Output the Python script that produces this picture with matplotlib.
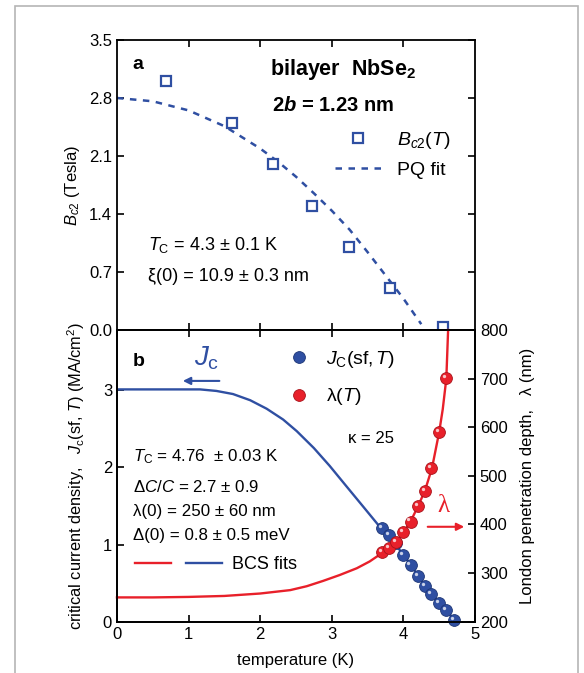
import matplotlib
matplotlib.use("Agg")
import matplotlib.pyplot as plt
from matplotlib.lines import Line2D
from matplotlib.patches import Rectangle
from matplotlib.legend_handler import HandlerTuple
from matplotlib.transforms import offset_copy

plt.rcParams['font.family'] = ['Liberation Sans', 'DejaVu Sans']
plt.rcParams['mathtext.fontset'] = 'custom'
plt.rcParams['mathtext.rm'] = 'Liberation Sans'
plt.rcParams['mathtext.it'] = 'Liberation Sans:italic'
plt.rcParams['mathtext.bf'] = 'Liberation Sans:bold'
plt.rcParams['mathtext.bfit'] = 'Liberation Sans:italic:bold'

BLUE = '#2f4fa2'
RED = '#e8202a'

# panel a: upper critical field
T_bc2 = [0.68, 1.60, 2.18, 2.72, 3.24, 3.81, 4.56]
Bc2 = [3.00, 2.50, 2.00, 1.50, 1.00, 0.51, 0.03]
T_pq = [0, 0.5, 1.0, 1.5, 2.0, 2.25, 2.5, 2.75, 3.0, 3.25, 3.5, 3.75, 4.0, 4.25]
B_pq = [2.80, 2.76, 2.65, 2.46, 2.19, 2.03, 1.85, 1.65, 1.44, 1.21, 0.94, 0.66, 0.38, 0.07]

# panel b: self-field critical current and London depth
T_jc = [3.70, 3.80, 3.90, 3.99, 4.10, 4.20, 4.30, 4.39, 4.50, 4.60, 4.71]
Jc = [1.21, 1.12, 1.02, 0.86, 0.73, 0.59, 0.46, 0.36, 0.24, 0.15, 0.02]
T_lam = [3.70, 3.80, 3.90, 3.99, 4.10, 4.20, 4.30, 4.39, 4.50, 4.60]
lam = [343, 351, 363, 384, 406, 437, 469, 516, 591, 702]

T_jfit = [0, 0.5, 0.9, 1.16, 1.39, 1.62, 1.86, 2.09, 2.32, 2.51, 2.75, 2.97, 3.2,
          3.44, 3.67, 3.9, 4.1, 4.3, 4.5, 4.7, 4.76]
J_fit = [3.01, 3.01, 3.01, 3.01, 2.99, 2.95, 2.87, 2.76, 2.62, 2.47, 2.25, 2.02, 1.76,
         1.49, 1.23, 0.99, 0.74, 0.47, 0.24, 0.04, 0.0]
T_lfit = [0, 0.5, 1.0, 1.5, 2.0, 2.42, 2.65, 2.88, 3.11, 3.35, 3.53, 3.67, 3.8, 3.9,
          4.0, 4.1, 4.2, 4.3, 4.4, 4.5, 4.55, 4.60, 4.625]
lam_fit = [250, 250, 251, 253, 258, 265, 273, 284, 296, 310, 324, 338, 351, 363,
           384, 406, 436, 469, 516, 590, 637, 700, 800]

fig = plt.figure(figsize=(5.84, 6.73), dpi=100)
axa = fig.add_axes([0.2003, 0.5097, 0.613, 0.4309])
axb = fig.add_axes([0.2003, 0.0762, 0.613, 0.4335])
axr = axb.twinx()

# outer frame
fig.add_artist(Rectangle((15 / 584, -0.1), 563 / 584, 1.1 - 6 / 673,
                         transform=fig.transFigure, fill=False, ec='#b5b5b5', lw=1.2))

for ax in (axa, axb, axr):
    for s in ax.spines.values():
        s.set_linewidth(1.3)
    ax.tick_params(direction='in', length=5, width=1.2, labelsize=12)

# ---- panel a ----
axa.plot(T_pq, B_pq, color=BLUE, lw=1.8, dashes=(2.6, 2.6), label='PQ fit')
axa.plot(T_bc2, Bc2, 's', ms=6.5, mfc='white', mec=BLUE, mew=1.6, clip_on=False,
         zorder=5, label='$B_{c2}(T)$')
axa.set_xlim(0, 5)
axa.set_ylim(0, 3.5)
axa.set_yticks([0.0, 0.7, 1.4, 2.1, 2.8, 3.5])
axa.set_yticklabels(['0.0', '0.7', '1.4', '2.1', '2.8', '3.5'])
axa.set_xticks([1, 2, 3, 4])
axa.tick_params(top=True, right=True, labelbottom=False)
axa.set_ylabel('$B_{c2}$ (Tesla)', fontsize=12, labelpad=5)

h, l = axa.get_legend_handles_labels()
axa.legend([h[1], h[0]], [l[1], l[0]], loc='upper left', bbox_to_anchor=(0.609, 0.69),
           frameon=False, fontsize=14, handlelength=2.4, handletextpad=0.8,
           borderpad=0, borderaxespad=0, labelspacing=0.55)

axa.text(0.22, 3.2, 'a', fontsize=14, fontweight='bold', va='center')
axa.text(2.14, 3.14, r'bilayer  NbSe$_{\mathbf{2}}$', fontsize=15.5, fontweight='bold', va='center')
axa.text(2.16, 2.71, r'2$\mathbfit{b}$ = 1.23 nm', fontsize=14.5, fontweight='bold', va='center')
axa.text(0.43, 1.03, r'$T_{\mathrm{C}}$ = 4.3 $\pm$ 0.1 K', fontsize=13, va='center')
axa.text(0.43, 0.64, 'ξ(0) = 10.9 ± 0.3 nm', fontsize=13, va='center')

# ---- panel b ----
axb.plot(T_jfit, J_fit, color=BLUE, lw=1.7)
axr.plot(T_lfit, lam_fit, color=RED, lw=1.7, clip_on=False)


def spheres(ax, x, y, color, dark):
    ax.plot(x, y, 'o', ms=8.5, mfc=color, mec=dark, mew=0.6, zorder=4, clip_on=False)
    tr = offset_copy(ax.transData, fig=fig, x=-1.5, y=1.5, units='points')
    ax.plot(x, y, 'o', ms=2.4, mfc='white', mec='none', alpha=0.75, transform=tr,
            zorder=5, clip_on=False)


spheres(axb, T_jc, Jc, BLUE, '#1d3575')
spheres(axr, T_lam, lam, RED, '#a8121a')

axb.set_xlim(0, 5)
axb.set_ylim(0, 3.78)
axb.set_yticks([0, 1, 2, 3])
axb.set_xticks([0, 1, 2, 3, 4, 5])
axb.tick_params(top=True, right=False)
axb.set_xlabel('temperature (K)', fontsize=12, labelpad=8)
axb.set_ylabel(r'critical current density,   $J_{\mathrm{c}}$(sf, $T$) (MA/cm$^{2}$)',
               fontsize=11.8, labelpad=11)

axr.set_ylim(200, 800)
axr.set_yticks([200, 300, 400, 500, 600, 700, 800])
axr.set_ylabel('London penetration depth,   λ (nm)', fontsize=12, labelpad=9)

hj = Line2D([], [], marker='o', ls='none', ms=8.5, mfc=BLUE, mec='#1d3575', mew=0.6)
hl = Line2D([], [], marker='o', ls='none', ms=8.5, mfc=RED, mec='#a8121a', mew=0.6)
leg1 = axb.legend([hj, hl], [r'$J_{\mathrm{C}}$(sf,$\,T$)', 'λ($T$)'], loc='upper left',
                  bbox_to_anchor=(0.485, 0.935), frameon=False, fontsize=14,
                  handlelength=0.9, handletextpad=0.9, borderpad=0, borderaxespad=0,
                  labelspacing=0.85)
axb.add_artist(leg1)
lr = Line2D([], [], color=RED, lw=1.7)
lb = Line2D([], [], color=BLUE, lw=1.7)
axb.legend([(lr, lb)], ['BCS fits'], handler_map={tuple: HandlerTuple(ndivide=2, pad=0.85)},
           loc='upper left', bbox_to_anchor=(0.05, 0.225), frameon=False, fontsize=13,
           handlelength=4.8, handletextpad=0.6, borderpad=0, borderaxespad=0)

axb.text(0.22, 3.37, 'b', fontsize=14, fontweight='bold', va='center')
axb.text(1.08, 3.42, r'$J_{\mathrm{c}}$', fontsize=20, color=BLUE, va='center')
axb.annotate('', xy=(0.92, 3.12), xytext=(1.43, 3.12),
             arrowprops=dict(arrowstyle='-|>', color=BLUE, lw=1.5, mutation_scale=11,
                             shrinkA=0, shrinkB=0))
axb.text(4.56, 1.5, 'λ', fontsize=18, color=RED, va='center', ha='center',
         family=['Liberation Serif', 'DejaVu Serif'])
axb.annotate('', xy=(4.85, 1.23), xytext=(4.34, 1.23),
             arrowprops=dict(arrowstyle='-|>', color=RED, lw=1.5, mutation_scale=11,
                             shrinkA=0, shrinkB=0))
axb.text(3.23, 2.38, 'κ = 25', fontsize=12, va='center')
axb.text(0.23, 2.14, r'$T_{\mathrm{C}}$ = 4.76  $\pm$ 0.03 K', fontsize=12.2, va='center')
axb.text(0.23, 1.75, r'Δ$C/C$ = 2.7 ± 0.9', fontsize=12.2, va='center')
axb.text(0.23, 1.43, 'λ(0) = 250 ± 60 nm', fontsize=12.2, va='center')
axb.text(0.23, 1.12, 'Δ(0) = 0.8 ± 0.5 meV', fontsize=12.2, va='center')

fig.savefig('out.png', dpi=100)
